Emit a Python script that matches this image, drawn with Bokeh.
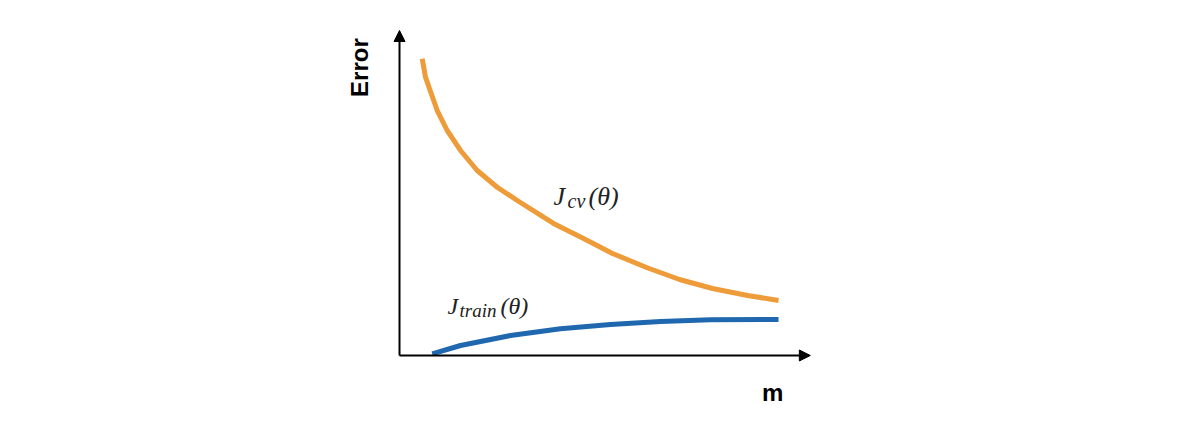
import numpy as np
from bokeh.plotting import figure
from bokeh.models import Range1d, Arrow, NormalHead, Label
from bokeh.embed import file_html
from bokeh.resources import INLINE

# data (m vs error)
cv_m = [0.554, 0.634, 0.756, 0.920, 1.163, 1.488, 1.895, 2.383, 2.871, 3.756,
        4.488, 5.195, 6.024, 6.829, 7.634, 8.488, 9.244]
cv_err = [9.129, 8.563, 8.123, 7.538, 6.923, 6.308, 5.692, 5.178, 4.769, 4.062,
          3.600, 3.138, 2.708, 2.338, 2.062, 1.846, 1.692]
train_m = [0.798, 1.488, 2.707, 3.927, 5.146, 6.366, 7.585, 9.244]
train_err = [0.052, 0.308, 0.615, 0.822, 0.954, 1.046, 1.098, 1.108]
axis_x_end = 10.02
axis_y_end = 10.0

ORANGE = "#EE9B3A"
BLUE = "#1F68B0"

p = figure(width=1184, height=413, output_backend="svg", toolbar_location=None,
           x_range=Range1d(-9.732, 19.146), y_range=Range1d(-1.785, 10.923),
           x_axis_type=None, y_axis_type=None, min_border=0)
p.outline_line_color = None
p.grid.visible = False
p.background_fill_color = "white"
p.border_fill_color = "white"

p.line(cv_m, cv_err, line_color=ORANGE, line_width=5, line_join="round")
p.line(train_m, train_err, line_color=BLUE, line_width=5, line_join="round")

p.add_layout(Arrow(x_start=0, y_start=0, x_end=axis_x_end, y_end=0, line_width=2, line_color="black",
                   end=NormalHead(size=11, fill_color="black", line_color="black")))
p.add_layout(Arrow(x_start=0, y_start=0, x_end=0, y_end=axis_y_end, line_width=2, line_color="black",
                   end=NormalHead(size=11, fill_color="black", line_color="black")))

p.add_layout(Label(x=-0.976, y=8.86, text="Error", angle=np.pi / 2, text_align="center",
                   text_baseline="middle", text_font="Liberation Sans", text_font_style="bold",
                   text_font_size="24px", text_color="black"))
p.add_layout(Label(x=9.10, y=-1.139, text="m", text_align="center", text_baseline="alphabetic",
                   text_font="Liberation Sans", text_font_style="bold", text_font_size="24px",
                   text_color="black"))

serif = "Liberation Serif"
def lab(x, y, t, size):
    p.add_layout(Label(x=x, y=y, text=t, text_align="left", text_baseline="alphabetic",
                       text_font=serif, text_font_style="italic", text_font_size=size,
                       text_color="#222222"))

lab(3.756, 4.892, "J", "26px")
lab(4.098, 4.739, "cv", "20px")
lab(4.610, 4.892, "(θ)", "26px")

lab(1.171, 1.508, "J", "24px")
lab(1.463, 1.385, "train", "19px")
lab(2.463, 1.508, "(θ)", "24px")

open("out.html", "w").write(file_html(p, INLINE))
